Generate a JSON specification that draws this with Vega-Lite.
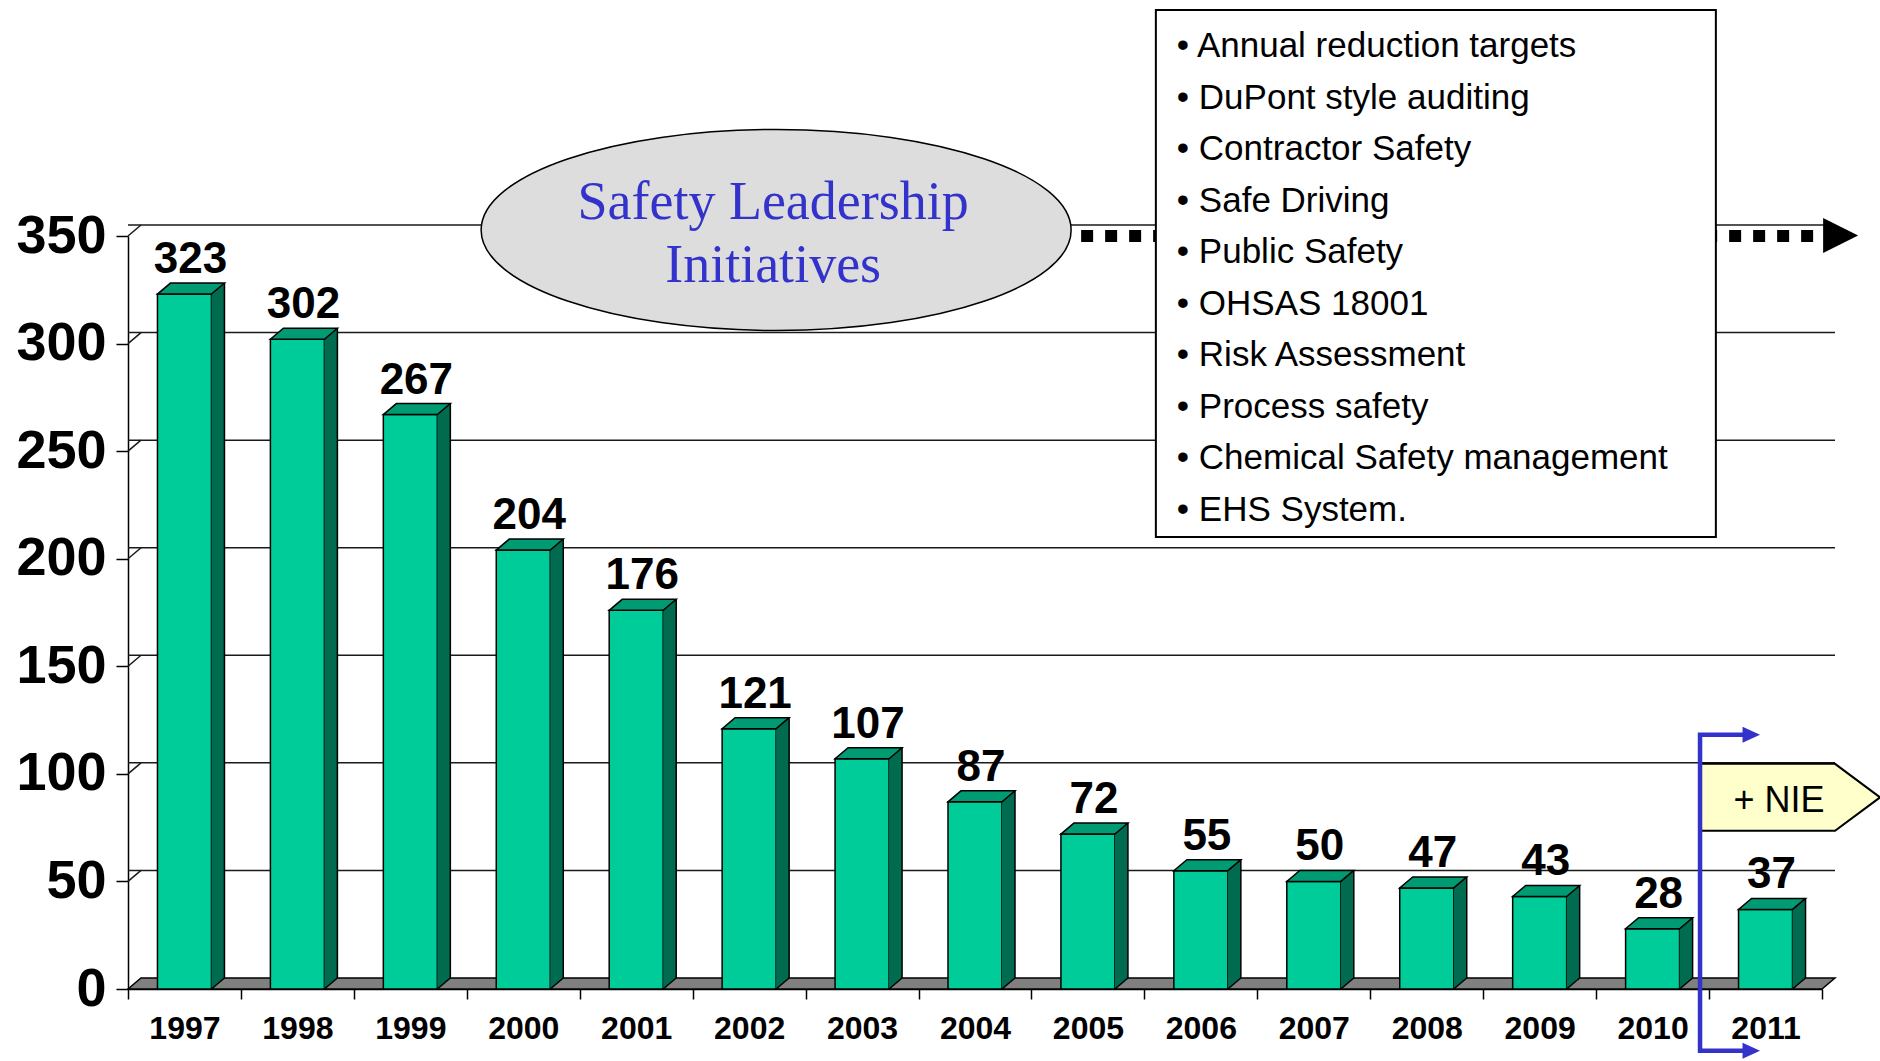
{
  "$schema": "https://vega.github.io/schema/vega-lite/v6.json",
  "width": 1694,
  "height": 753,
  "autosize": {"type": "none"},
  "padding": {"left": 128, "top": 236, "right": 58, "bottom": 72},
  "background": "white",
  "config": {
    "view": {"stroke": null},
    "axisX": {"labelAngle": 0, "tickBand": "extent", "tickSize": 10, "tickWidth": 1.5, "tickColor": "#000", "domainColor": "#000", "domainWidth": 1.5, "labelPadding": 14, "labelFont": "Liberation Sans", "labelFontWeight": "bold", "labelFontSize": 32, "labelColor": "#000", "grid": false, "labelOverlap": false},
    "axisY": {"grid": false, "labelOverlap": false, "labelFlush": false, "tickSize": 12, "tickWidth": 1.5, "tickColor": "#000", "domainColor": "#000", "domainWidth": 1.5, "labelPadding": 10, "labelFont": "Liberation Sans", "labelFontWeight": "bold", "labelFontSize": 54, "labelColor": "#000"}
  },
  "datasets": {
    "bars": [
      {"year": "1997", "value": 323}, {"year": "1998", "value": 302}, {"year": "1999", "value": 267},
      {"year": "2000", "value": 204}, {"year": "2001", "value": 176}, {"year": "2002", "value": 121},
      {"year": "2003", "value": 107}, {"year": "2004", "value": 87}, {"year": "2005", "value": 72},
      {"year": "2006", "value": 55}, {"year": "2007", "value": 50}, {"year": "2008", "value": 47},
      {"year": "2009", "value": 43}, {"year": "2010", "value": 28}, {"year": "2011", "value": 37}
    ],
    "grid": [{"v": 50}, {"v": 100}, {"v": 150}, {"v": 200}, {"v": 250}, {"v": 300}, {"v": 350}],
    "one": [{"k": 1}]
  },
  "layer": [
    {
      "data": {"name": "grid"},
      "mark": {"type": "rule", "xOffset": 13, "x2Offset": 13, "yOffset": -11, "color": "#1a1a1a", "strokeWidth": 1.5},
      "encoding": {
        "y": {"field": "v", "type": "quantitative", "title": null, "scale": {"domain": [0, 350], "nice": false}, "axis": {"title": null, "values": [0, 50, 100, 150, 200, 250, 300, 350], "labelOverlap": false}}
      }
    },
    {
      "data": {"name": "grid"},
      "mark": {"type": "point", "shape": "M-56.47,0 L-43.47,-11", "size": 4, "filled": false, "stroke": "#1a1a1a", "strokeWidth": 1.5, "opacity": 1},
      "encoding": {
        "x": {"datum": "1997", "type": "nominal", "title": null, "scale": {"domain": ["1997","1998","1999","2000","2001","2002","2003","2004","2005","2006","2007","2008","2009","2010","2011"], "paddingInner": 0, "paddingOuter": 0}, "axis": {"title": null, "labelOverlap": false}},
        "y": {"field": "v", "type": "quantitative", "title": null, "scale": {"domain": [0, 350], "nice": false}, "axis": {"title": null, "values": [0, 50, 100, 150, 200, 250, 300, 350], "labelOverlap": false}}
      }
    },
    {
      "data": {"name": "one"},
      "mark": {"type": "point", "shape": "M-56.47,0 H1637.5 L1650.5,-11 H-43.47 Z", "size": 4, "filled": true, "fill": "#808080", "stroke": "#000", "strokeWidth": 1.5, "opacity": 1},
      "encoding": {
        "x": {"datum": "1997", "type": "nominal", "title": null, "scale": {"domain": ["1997","1998","1999","2000","2001","2002","2003","2004","2005","2006","2007","2008","2009","2010","2011"], "paddingInner": 0, "paddingOuter": 0}, "axis": {"title": null, "labelOverlap": false}},
        "y": {"datum": 0, "type": "quantitative", "title": null, "scale": {"domain": [0, 350], "nice": false}, "axis": {"title": null, "values": [0, 50, 100, 150, 200, 250, 300, 350], "labelOverlap": false}}
      }
    },
    {
      "data": {"name": "bars"},
      "mark": {"type": "bar", "width": 54, "fill": "#00CC99", "stroke": "#000", "strokeWidth": 1.5},
      "encoding": {
        "x": {"field": "year", "type": "nominal", "title": null, "scale": {"domain": ["1997","1998","1999","2000","2001","2002","2003","2004","2005","2006","2007","2008","2009","2010","2011"], "paddingInner": 0, "paddingOuter": 0}, "axis": {"title": null, "labelOverlap": false}},
        "y": {"field": "value", "type": "quantitative", "title": null, "scale": {"domain": [0, 350], "nice": false}, "axis": {"title": null, "values": [0, 50, 100, 150, 200, 250, 300, 350], "labelOverlap": false}},
        "y2": {"datum": 0}
      }
    },
    {
      "data": {"name": "bars"},
      "mark": {"type": "bar", "width": 13, "xOffset": 33.5, "yOffset": -11, "y2Offset": -11, "fill": "#006B4F", "strokeWidth": 0},
      "encoding": {
        "x": {"field": "year", "type": "nominal", "title": null, "scale": {"domain": ["1997","1998","1999","2000","2001","2002","2003","2004","2005","2006","2007","2008","2009","2010","2011"], "paddingInner": 0, "paddingOuter": 0}, "axis": {"title": null, "labelOverlap": false}},
        "y": {"field": "value", "type": "quantitative", "title": null, "scale": {"domain": [0, 350], "nice": false}, "axis": {"title": null, "values": [0, 50, 100, 150, 200, 250, 300, 350], "labelOverlap": false}},
        "y2": {"datum": 0}
      }
    },
    {
      "data": {"name": "bars"},
      "mark": {"type": "point", "shape": "M27,0 L40,-11 L27,-11 Z", "size": 4, "filled": true, "fill": "#006B4F", "strokeWidth": 0, "opacity": 1},
      "encoding": {
        "x": {"field": "year", "type": "nominal", "title": null, "scale": {"domain": ["1997","1998","1999","2000","2001","2002","2003","2004","2005","2006","2007","2008","2009","2010","2011"], "paddingInner": 0, "paddingOuter": 0}, "axis": {"title": null, "labelOverlap": false}},
        "y": {"datum": 0, "type": "quantitative", "title": null, "scale": {"domain": [0, 350], "nice": false}, "axis": {"title": null, "values": [0, 50, 100, 150, 200, 250, 300, 350], "labelOverlap": false}}
      }
    },
    {
      "data": {"name": "bars"},
      "mark": {"type": "point", "shape": "M27,0 L40,-11", "size": 4, "filled": false, "stroke": "#000", "strokeWidth": 1.5, "opacity": 1},
      "encoding": {
        "x": {"field": "year", "type": "nominal", "title": null, "scale": {"domain": ["1997","1998","1999","2000","2001","2002","2003","2004","2005","2006","2007","2008","2009","2010","2011"], "paddingInner": 0, "paddingOuter": 0}, "axis": {"title": null, "labelOverlap": false}},
        "y": {"datum": 0, "type": "quantitative", "title": null, "scale": {"domain": [0, 350], "nice": false}, "axis": {"title": null, "values": [0, 50, 100, 150, 200, 250, 300, 350], "labelOverlap": false}}
      }
    },
    {
      "data": {"name": "bars"},
      "mark": {"type": "rule", "xOffset": 40, "yOffset": -11, "y2Offset": -11, "color": "#000", "strokeWidth": 1.5},
      "encoding": {
        "x": {"field": "year", "type": "nominal", "title": null, "scale": {"domain": ["1997","1998","1999","2000","2001","2002","2003","2004","2005","2006","2007","2008","2009","2010","2011"], "paddingInner": 0, "paddingOuter": 0}, "axis": {"title": null, "labelOverlap": false}},
        "y": {"field": "value", "type": "quantitative", "title": null, "scale": {"domain": [0, 350], "nice": false}, "axis": {"title": null, "values": [0, 50, 100, 150, 200, 250, 300, 350], "labelOverlap": false}},
        "y2": {"datum": 0}
      }
    },
    {
      "data": {"name": "bars"},
      "mark": {"type": "point", "shape": "M-27,0 L27,0 L40,-11 L-14,-11 Z", "size": 4, "filled": true, "fill": "#009B73", "stroke": "#000", "strokeWidth": 1.5, "opacity": 1},
      "encoding": {
        "x": {"field": "year", "type": "nominal", "title": null, "scale": {"domain": ["1997","1998","1999","2000","2001","2002","2003","2004","2005","2006","2007","2008","2009","2010","2011"], "paddingInner": 0, "paddingOuter": 0}, "axis": {"title": null, "labelOverlap": false}},
        "y": {"field": "value", "type": "quantitative", "title": null, "scale": {"domain": [0, 350], "nice": false}, "axis": {"title": null, "values": [0, 50, 100, 150, 200, 250, 300, 350], "labelOverlap": false}}
      }
    },
    {
      "data": {"name": "bars"},
      "mark": {"type": "text", "dx": 6, "dy": -21, "baseline": "alphabetic", "align": "center", "font": "Liberation Sans", "fontWeight": "bold", "fontSize": 44, "color": "#000"},
      "encoding": {
        "x": {"field": "year", "type": "nominal", "title": null, "scale": {"domain": ["1997","1998","1999","2000","2001","2002","2003","2004","2005","2006","2007","2008","2009","2010","2011"], "paddingInner": 0, "paddingOuter": 0}, "axis": {"title": null, "labelOverlap": false}},
        "y": {"field": "value", "type": "quantitative", "title": null, "scale": {"domain": [0, 350], "nice": false}, "axis": {"title": null, "values": [0, 50, 100, 150, 200, 250, 300, 350], "labelOverlap": false}},
        "text": {"field": "value", "type": "quantitative"}
      }
    },
    {
      "data": {"name": "one"},
      "mark": {"type": "point", "shape": "M-268,-6 A295,100.5 0 1,1 322,-6 A295,100.5 0 1,1 -268,-6 Z", "size": 4, "filled": true, "fill": "#DDDDDD", "stroke": "#000", "strokeWidth": 1.5, "opacity": 1},
      "encoding": {
        "x": {"datum": "2002", "type": "nominal", "title": null, "scale": {"domain": ["1997","1998","1999","2000","2001","2002","2003","2004","2005","2006","2007","2008","2009","2010","2011"], "paddingInner": 0, "paddingOuter": 0}, "axis": {"title": null, "labelOverlap": false}},
        "y": {"datum": 350, "type": "quantitative", "title": null, "scale": {"domain": [0, 350], "nice": false}, "axis": {"title": null, "values": [0, 50, 100, 150, 200, 250, 300, 350], "labelOverlap": false}}
      }
    },
    {
      "data": {"name": "one"},
      "mark": {"type": "point", "shape": "M332,0 H1065", "size": 4, "filled": false, "stroke": "#000", "strokeWidth": 12, "strokeDash": [12, 12], "strokeCap": "butt", "opacity": 1},
      "encoding": {
        "x": {"datum": "2002", "type": "nominal", "title": null, "scale": {"domain": ["1997","1998","1999","2000","2001","2002","2003","2004","2005","2006","2007","2008","2009","2010","2011"], "paddingInner": 0, "paddingOuter": 0}, "axis": {"title": null, "labelOverlap": false}},
        "y": {"datum": 350, "type": "quantitative", "title": null, "scale": {"domain": [0, 350], "nice": false}, "axis": {"title": null, "values": [0, 50, 100, 150, 200, 250, 300, 350], "labelOverlap": false}}
      }
    },
    {
      "data": {"name": "one"},
      "mark": {"type": "point", "shape": "M1074,-18 L1109,-0.5 L1074,17 Z", "size": 4, "filled": true, "fill": "#000", "strokeWidth": 0, "opacity": 1},
      "encoding": {
        "x": {"datum": "2002", "type": "nominal", "title": null, "scale": {"domain": ["1997","1998","1999","2000","2001","2002","2003","2004","2005","2006","2007","2008","2009","2010","2011"], "paddingInner": 0, "paddingOuter": 0}, "axis": {"title": null, "labelOverlap": false}},
        "y": {"datum": 350, "type": "quantitative", "title": null, "scale": {"domain": [0, 350], "nice": false}, "axis": {"title": null, "values": [0, 50, 100, 150, 200, 250, 300, 350], "labelOverlap": false}}
      }
    },
    {
      "data": {"name": "one"},
      "mark": {"type": "text", "text": ["Safety Leadership", "Initiatives"], "dx": 24, "dy": -17, "lineHeight": 63, "align": "center", "baseline": "alphabetic", "font": "Liberation Serif", "fontSize": 54, "color": "#3333CC"},
      "encoding": {
        "x": {"datum": "2002", "type": "nominal", "title": null, "scale": {"domain": ["1997","1998","1999","2000","2001","2002","2003","2004","2005","2006","2007","2008","2009","2010","2011"], "paddingInner": 0, "paddingOuter": 0}, "axis": {"title": null, "labelOverlap": false}},
        "y": {"datum": 350, "type": "quantitative", "title": null, "scale": {"domain": [0, 350], "nice": false}, "axis": {"title": null, "values": [0, 50, 100, 150, 200, 250, 300, 350], "labelOverlap": false}}
      }
    },
    {
      "data": {"name": "one"},
      "mark": {"type": "point", "shape": "M-45,-226 H515 V301 H-45 Z", "size": 4, "filled": true, "fill": "#FFFFFF", "stroke": "#000", "strokeWidth": 2, "opacity": 1},
      "encoding": {
        "x": {"datum": "2006", "type": "nominal", "title": null, "scale": {"domain": ["1997","1998","1999","2000","2001","2002","2003","2004","2005","2006","2007","2008","2009","2010","2011"], "paddingInner": 0, "paddingOuter": 0}, "axis": {"title": null, "labelOverlap": false}},
        "y": {"datum": 350, "type": "quantitative", "title": null, "scale": {"domain": [0, 350], "nice": false}, "axis": {"title": null, "values": [0, 50, 100, 150, 200, 250, 300, 350], "labelOverlap": false}}
      }
    },
    {
      "data": {"name": "one"},
      "mark": {
        "type": "text",
        "text": ["• Annual reduction targets", "• DuPont style auditing", "• Contractor Safety", "• Safe Driving", "• Public Safety", "• OHSAS 18001", "• Risk Assessment", "• Process safety", "• Chemical Safety management", "• EHS System."],
        "dx": -24, "dy": -179, "lineHeight": 51.5, "align": "left", "baseline": "alphabetic",
        "font": "Liberation Sans", "fontSize": 35, "color": "#000"
      },
      "encoding": {
        "x": {"datum": "2006", "type": "nominal", "title": null, "scale": {"domain": ["1997","1998","1999","2000","2001","2002","2003","2004","2005","2006","2007","2008","2009","2010","2011"], "paddingInner": 0, "paddingOuter": 0}, "axis": {"title": null, "labelOverlap": false}},
        "y": {"datum": 350, "type": "quantitative", "title": null, "scale": {"domain": [0, 350], "nice": false}, "axis": {"title": null, "values": [0, 50, 100, 150, 200, 250, 300, 350], "labelOverlap": false}}
      }
    },
    {
      "data": {"name": "one"},
      "mark": {"type": "point", "shape": "M-65.5,-10 H69.5 L114.5,23.5 L69.5,57 H-65.5 Z", "size": 4, "filled": true, "fill": "#FFFFCC", "stroke": "#000", "strokeWidth": 2, "opacity": 1},
      "encoding": {
        "x": {"datum": "2011", "type": "nominal", "title": null, "scale": {"domain": ["1997","1998","1999","2000","2001","2002","2003","2004","2005","2006","2007","2008","2009","2010","2011"], "paddingInner": 0, "paddingOuter": 0}, "axis": {"title": null, "labelOverlap": false}},
        "y": {"datum": 100, "type": "quantitative", "title": null, "scale": {"domain": [0, 350], "nice": false}, "axis": {"title": null, "values": [0, 50, 100, 150, 200, 250, 300, 350], "labelOverlap": false}}
      }
    },
    {
      "data": {"name": "one"},
      "mark": {"type": "text", "text": "+ NIE", "dx": 13.5, "dy": 38, "align": "center", "baseline": "alphabetic", "font": "Liberation Sans", "fontSize": 36, "color": "#000"},
      "encoding": {
        "x": {"datum": "2011", "type": "nominal", "title": null, "scale": {"domain": ["1997","1998","1999","2000","2001","2002","2003","2004","2005","2006","2007","2008","2009","2010","2011"], "paddingInner": 0, "paddingOuter": 0}, "axis": {"title": null, "labelOverlap": false}},
        "y": {"datum": 100, "type": "quantitative", "title": null, "scale": {"domain": [0, 350], "nice": false}, "axis": {"title": null, "values": [0, 50, 100, 150, 200, 250, 300, 350], "labelOverlap": false}}
      }
    },
    {
      "data": {"name": "one"},
      "mark": {"type": "point", "shape": "M-22,-39 H-65.5 V277 H-22", "size": 4, "filled": false, "stroke": "#3333CC", "strokeWidth": 4.5, "strokeJoin": "miter", "opacity": 1},
      "encoding": {
        "x": {"datum": "2011", "type": "nominal", "title": null, "scale": {"domain": ["1997","1998","1999","2000","2001","2002","2003","2004","2005","2006","2007","2008","2009","2010","2011"], "paddingInner": 0, "paddingOuter": 0}, "axis": {"title": null, "labelOverlap": false}},
        "y": {"datum": 100, "type": "quantitative", "title": null, "scale": {"domain": [0, 350], "nice": false}, "axis": {"title": null, "values": [0, 50, 100, 150, 200, 250, 300, 350], "labelOverlap": false}}
      }
    },
    {
      "data": {"name": "one"},
      "mark": {"type": "point", "shape": "M-23,-47 L-5.5,-39 L-23,-31 Z M-23,269 L-5.5,277 L-23,285 Z", "size": 4, "filled": true, "fill": "#3333CC", "strokeWidth": 0, "opacity": 1},
      "encoding": {
        "x": {"datum": "2011", "type": "nominal", "title": null, "scale": {"domain": ["1997","1998","1999","2000","2001","2002","2003","2004","2005","2006","2007","2008","2009","2010","2011"], "paddingInner": 0, "paddingOuter": 0}, "axis": {"title": null, "labelOverlap": false}},
        "y": {"datum": 100, "type": "quantitative", "title": null, "scale": {"domain": [0, 350], "nice": false}, "axis": {"title": null, "values": [0, 50, 100, 150, 200, 250, 300, 350], "labelOverlap": false}}
      }
    }
  ]
}
